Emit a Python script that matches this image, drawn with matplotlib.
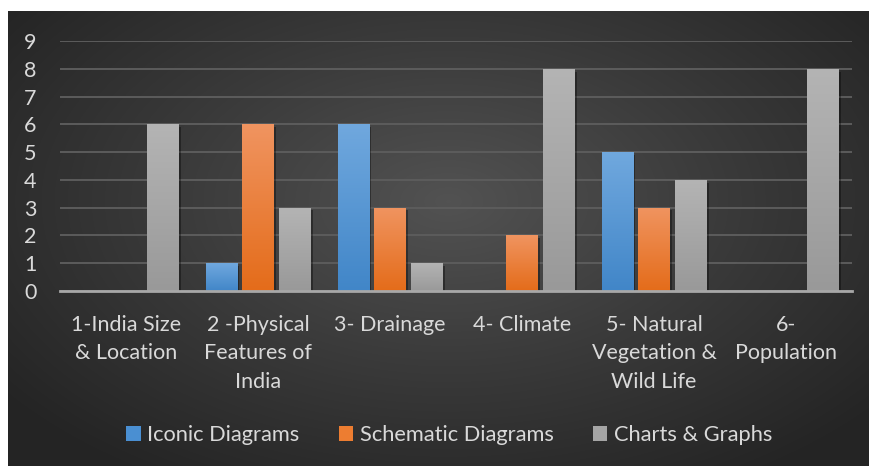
import numpy as np
import matplotlib.pyplot as plt
import matplotlib.patheffects as pe
from matplotlib.colors import LinearSegmentedColormap
from matplotlib.patches import Patch

categories = ['1-India Size\n& Location', '2 -Physical\nFeatures of\nIndia', '3- Drainage',
              '4- Climate', '5- Natural\nVegetation &\nWild Life', '6-\nPopulation']
series_names = ['Iconic Diagrams', 'Schematic Diagrams', 'Charts & Graphs']
iconic = [0, 1, 6, 0, 5, 0]
schematic = [0, 6, 3, 2, 3, 0]
charts = [6, 3, 1, 8, 4, 8]
y_ticks = list(range(0, 10))

# (bottom, top, legend) colours for each series
palette = [('#4186c8', '#70a8de', '#4a8fd2'),
           ('#e46c1a', '#f09460', '#ed7d31'),
           ('#999999', '#b4b4b4', '#a5a5a5')]

plt.rcParams['font.family'] = ['Lato', 'DejaVu Sans']
W, H = 869, 466
fig = plt.figure(figsize=(W / 100, H / 100), dpi=100)
fig.patch.set_facecolor('white')

# dark panel with a soft radial glow
bg = fig.add_axes([8 / W, 0, 1 - 8 / W, 1 - 11 / H])
yy, xx = np.mgrid[0:455, 0:861]
r = np.sqrt(((xx - 440) / 560) ** 2 + ((yy - 190) / 330) ** 2)
bg_cmap = LinearSegmentedColormap.from_list('bg', ['#525252', '#3a3a3a', '#242424'])
bg.imshow(np.clip(r, 0, 1), cmap=bg_cmap, aspect='auto', extent=[0, 1, 0, 1],
          origin='upper', interpolation='bilinear')
bg.set_axis_off()

ax = fig.add_axes([60 / W, 1 - 291 / H, (852 - 60) / W, 250 / H])
ax.set_facecolor('none')

x = np.arange(len(categories))
width = 0.235
step = 0.28
grad = np.linspace(0, 1, 128).reshape(-1, 1)

for i, vals in enumerate([iconic, schematic, charts]):
    lo, hi, mid = palette[i]
    cmap = LinearSegmentedColormap.from_list(f's{i}', [lo, hi])
    bars = ax.bar(x + (i - 1) * step, vals, width, color=mid, zorder=3,
                  path_effects=[pe.SimplePatchShadow(offset=(2, -2), shadow_rgbFace='black', alpha=0.35),
                                pe.Normal()])
    for b in bars:
        if b.get_height() <= 0:
            continue
        im = ax.imshow(grad, cmap=cmap, origin='lower', aspect='auto', zorder=4,
                       extent=[b.get_x(), b.get_x() + b.get_width(), 0, b.get_height()])
        im.set_clip_path(b)

ax.set_xlim(-0.5, len(categories) - 0.5)
ax.set_ylim(0, 9)
ax.set_yticks(y_ticks)
ax.yaxis.grid(True, color='#5c5c5c', linewidth=1.4, zorder=0)
ax.set_axisbelow(True)
for s in ['top', 'right', 'left']:
    ax.spines[s].set_visible(False)
ax.spines['bottom'].set_color('#a8a8a8')
ax.spines['bottom'].set_linewidth(2)
ax.spines['bottom'].set_zorder(5)

ax.set_xticks(x)
ax.set_xticklabels(categories, linespacing=1.55)
ax.tick_params(axis='both', length=0, colors='#d9d9d9', labelsize=15.5)
ax.tick_params(axis='x', pad=17)
ax.tick_params(axis='y', pad=17)

handles = [Patch(facecolor=p[2]) for p in palette]
fig.legend(handles, series_names, loc='center', bbox_to_anchor=(0.517, 1 - 435 / H),
           ncol=3, frameon=False, fontsize=15.75, labelcolor='#d9d9d9',
           handlelength=0.65, handleheight=0.65, handletextpad=0.3, columnspacing=1.8)

fig.savefig('out.png', dpi=100)
